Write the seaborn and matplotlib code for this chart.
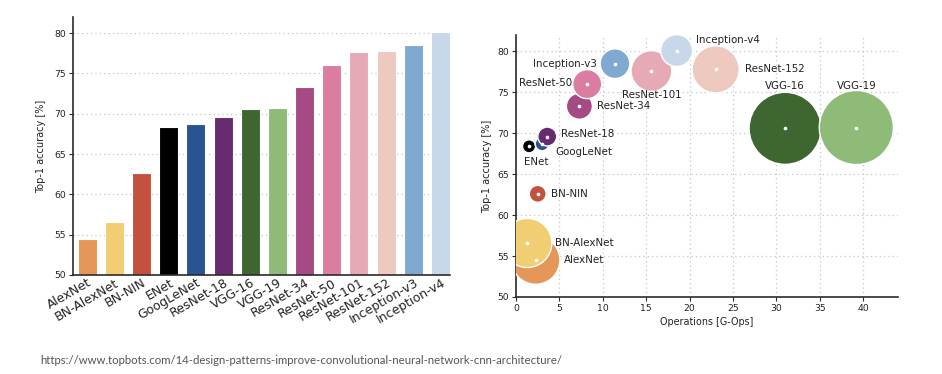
import matplotlib
matplotlib.use("Agg")
import matplotlib.pyplot as plt
import matplotlib.transforms as mtransforms
import seaborn as sns
import pandas as pd

# ---------------- data ----------------
models = ["AlexNet", "BN-AlexNet", "BN-NIN", "ENet", "GoogLeNet", "ResNet-18",
          "VGG-16", "VGG-19", "ResNet-34", "ResNet-50", "ResNet-101",
          "ResNet-152", "Inception-v3", "Inception-v4"]
accuracy = [54.5, 56.6, 62.6, 68.4, 68.7, 69.6, 70.6, 70.7, 73.3, 76.0,
            77.6, 77.8, 78.5, 80.1]
operations = [2.27, 1.3, 2.5, 1.5, 3.0, 3.6, 31.0, 39.2, 7.3, 8.2,
              15.6, 23.0, 11.4, 18.5]          # G-Ops
params_m = [62, 64, 7.6, 4.5, 5, 9.5, 138, 146, 18, 22.4, 44, 59, 23.4, 27]  # M
colors = ["#E5975A", "#F2CE72", "#C4513E", "#000000", "#285493", "#662C6F",
          "#3E6631", "#8FBB79", "#A54A85", "#DA7DA1", "#E6A9B6", "#EEC9C0",
          "#7FA9D0", "#C9D7EA"]
bar_yticks = [50, 55, 60, 65, 70, 75, 80]
sc_xticks = [0, 5, 10, 15, 20, 25, 30, 35, 40]
source_url = "https://www.topbots.com/14-design-patterns-improve-convolutional-neural-network-cnn-architecture/"

# label placement (pixel offsets from the bubble centre, ha)
label_pos = {
    "AlexNet": (28, 0, "left"), "BN-AlexNet": (28, 0, "left"),
    "BN-NIN": (13, 0, "left"), "ENet": (-5, -16, "left"),
    "GoogLeNet": (13, -8, "left"), "ResNet-18": (14, 3, "left"),
    "VGG-16": (0, 42, "center"), "VGG-19": (0, 42, "center"),
    "ResNet-34": (18, 0, "left"), "ResNet-50": (-15, 1, "right"),
    "ResNet-101": (0, -24, "center"), "ResNet-152": (29, 0, "left"),
    "Inception-v3": (-18, 0, "right"), "Inception-v4": (19, 11, "left"),
}

df = pd.DataFrame({"model": models, "acc": accuracy, "ops": operations,
                   "params": params_m})
palette = dict(zip(models, colors))

sns.set_theme(style="white")
plt.rcParams["font.family"] = ["DejaVu Sans"]

W, H = 942, 374
fig = plt.figure(figsize=(W / 100, H / 100), dpi=100)
fig.patch.set_facecolor("white")

spine_col = "#2b2b2b"
grid_kw = dict(color="#c4c4c4", linestyle=(0, (1, 2.5)), linewidth=0.9)

# ---------------- left: bar chart ----------------
ax1 = fig.add_axes([73 / W, 1 - 275 / H, (450 - 73) / W, (275 - 17) / H])
sns.barplot(data=df, x="model", y="acc", hue="model", palette=palette,
            legend=False, width=0.7, edgecolor="white", linewidth=0.8,
            saturation=1, ax=ax1, zorder=2)
ax1.set_ylim(50, 82)
ax1.set_xlim(-0.52, 13.35)
ax1.set_yticks(bar_yticks)
ax1.yaxis.grid(True, zorder=0, **grid_kw)
ax1.set_axisbelow(True)
ax1.set_xlabel("")
ax1.set_ylabel("Top-1 accuracy [%]", fontsize=7, color="#222222", labelpad=6)
ax1.tick_params(axis="y", labelsize=6.7, length=3, width=0.8, color=spine_col,
                left=True, pad=2, labelcolor="#222222")
ax1.tick_params(axis="x", length=0, labelsize=9, pad=1, labelcolor="#222222")
off = mtransforms.ScaledTranslation(7 / 100, 0, fig.dpi_scale_trans)
for lab in ax1.get_xticklabels():
    lab.set_rotation(30)
    lab.set_ha("right")
    lab.set_transform(lab.get_transform() + off)
for s in ["top", "right"]:
    ax1.spines[s].set_visible(False)
for s in ["left", "bottom"]:
    ax1.spines[s].set_color(spine_col)
    ax1.spines[s].set_linewidth(1.2)

# ---------------- right: bubble chart ----------------
ax2 = fig.add_axes([516 / W, 1 - 297 / H, (898 - 516) / W, (297 - 35) / H])
k = 19.5
pmin, pmax = min(params_m), max(params_m)
sns.scatterplot(data=df, x="ops", y="acc", hue="model", palette=palette,
                size="params", sizes=(pmin * k, pmax * k), size_norm=(pmin, pmax),
                edgecolor="white", linewidth=1.0, alpha=1, legend=False,
                ax=ax2, zorder=3)
sns.scatterplot(data=df, x="ops", y="acc", color="white", s=7, linewidth=0,
                legend=False, ax=ax2, zorder=4)
ax2.set_xlim(0, 44)
ax2.set_ylim(50, 82)
ax2.set_xticks(sc_xticks)
ax2.set_yticks(bar_yticks)
ax2.grid(True, zorder=0, **grid_kw)
ax2.set_axisbelow(True)
ax2.set_xlabel("Operations [G-Ops]", fontsize=6.9, color="#222222", labelpad=3)
ax2.set_ylabel("Top-1 accuracy [%]", fontsize=7, color="#222222", labelpad=4)
ax2.tick_params(labelsize=6.7, length=3, width=0.8, color=spine_col,
                left=True, bottom=True, pad=2, labelcolor="#222222")
for s in ["top", "right"]:
    ax2.spines[s].set_visible(False)
for s in ["left", "bottom"]:
    ax2.spines[s].set_color(spine_col)
    ax2.spines[s].set_linewidth(1.2)

for m, x, y in zip(models, operations, accuracy):
    dx, dy, ha = label_pos[m]
    ax2.annotate(m, (x, y), xytext=(dx * 0.72, dy * 0.72),
                 textcoords="offset points", ha=ha, va="center",
                 fontsize=7.4, color="#222222", zorder=5)

# ---------------- source line ----------------
fig.text(40 / W, 1 - 361 / H, source_url, fontsize=8.2, color="#555555",
         ha="left", va="center", family=["Lato", "DejaVu Sans"])

fig.savefig("out.png", dpi=100, facecolor="white")
